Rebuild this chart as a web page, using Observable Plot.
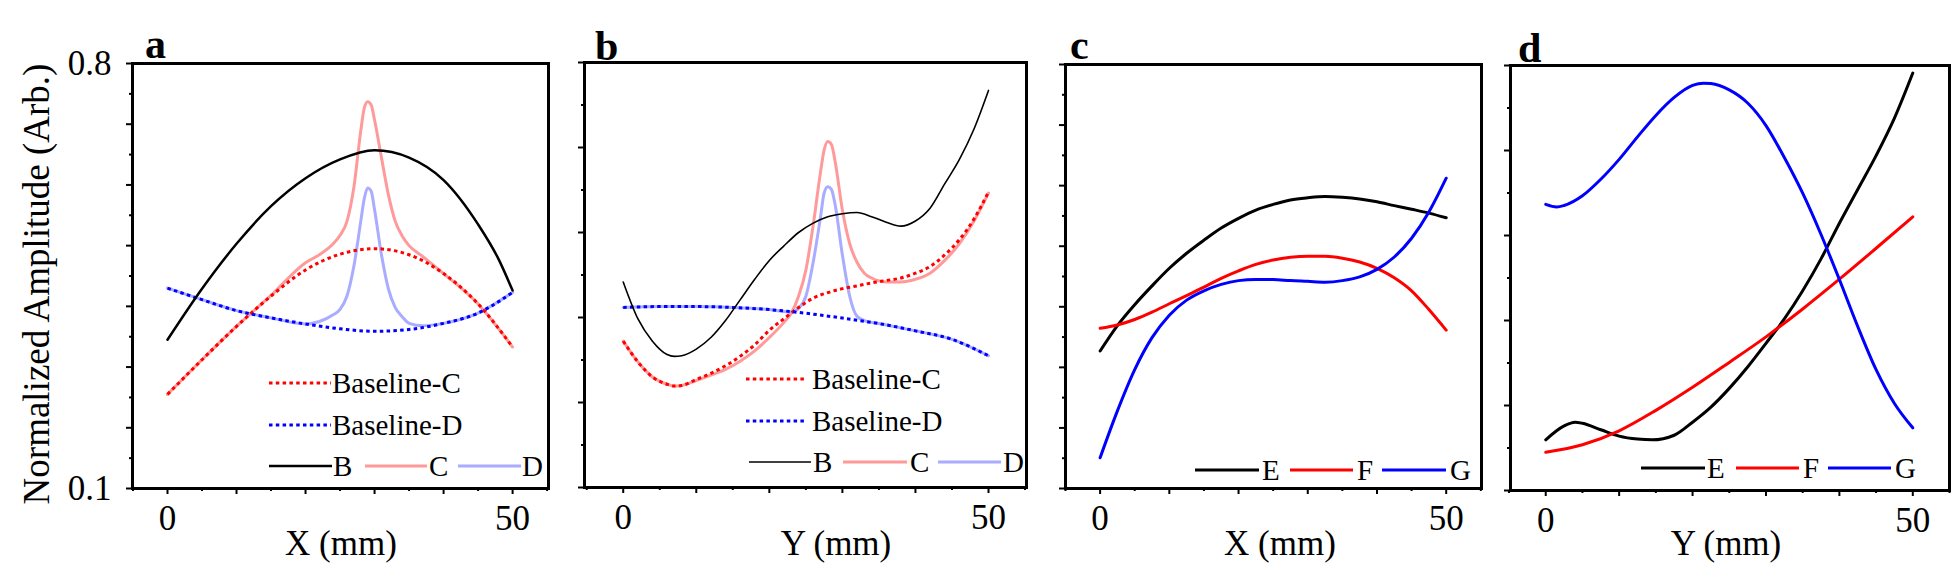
<!DOCTYPE html>
<html><head><meta charset="utf-8">
<script src="https://cdn.jsdelivr.net/npm/d3@7"></script>
<script src="https://cdn.jsdelivr.net/npm/@observablehq/plot@0.6"></script>
<style>
body{margin:0;background:#fff;}
#wrap{position:relative;width:1955px;height:586px;overflow:hidden;background:#fff;}
#wrap svg{position:absolute;top:0;}
</style></head><body><div id="wrap"></div>
<script>
const FONT = '"Liberation Serif","Times New Roman",serif';

// ---------- tick definitions ----------
const X_MAJOR = [0,10,20,30,40,50];
const X_MINOR = [-5,5,15,25,35,45,55];
const X_LABELS = [0,50];
const Y7_MAJOR = [0.1,0.2,0.3,0.4,0.5,0.6,0.7,0.8];
const Y7_MINOR = [0.15,0.25,0.35,0.45,0.55,0.65,0.75];
const Y5_MAJOR = [0.1,0.24,0.38,0.52,0.66,0.8];
const Y5_MINOR = [0.17,0.31,0.45,0.59,0.73];
const Y_LABELS = [0.1,0.8];

// ---------- panel a (X scan) ----------
const aB_x = [0,5,10,15,20,25,30,35,40,45,48,50];
const aB_y = [.345,.429,.503,.565,.611,.642,.657,.645,.608,.535,.477,.426];
const aC_x = [0,5,10,15,20,22,24,25,26,27,28,28.5,29,29.5,30,31,32,33,34,35,37,40,45,50];
const aC_y = [.255,.312,.367,.418,.472,.485,.503,.517,.54,.596,.689,.726,.737,.732,.707,.645,.584,.54,.516,.5,.482,.454,.404,.333];
const aD_x = [0,5,10,15,20,22,24,25,26,27,28,28.5,29,29.5,30,31,32,33,34,35,37,40,45,50];
const aD_y = [.43,.411,.393,.381,.371,.375,.386,.395,.417,.466,.54,.577,.595,.59,.559,.485,.429,.398,.383,.372,.368,.372,.389,.423];
const aBaseC_x = [0,5,10,15,20,25,30,35,40,45,50];
const aBaseC_y = [.255,.312,.367,.417,.46,.486,.495,.485,.454,.404,.333];
const aBaseD_x = [0,5,10,15,20,25,30,35,40,45,50];
const aBaseD_y = [.43,.411,.393,.381,.371,.363,.359,.362,.372,.389,.423];

// ---------- panel b (Y scan) ----------
const bB_x = [0,2,4,6,7,8,10,12,14,16,18,20,22,24,26,28,30,32,34,36,38,40,42,44,46,48,50];
const bB_y = [.4385,.378,.341,.319,.316,.317,.328,.347,.375,.409,.443,.474,.498,.52,.5355,.546,.551,.553,.546,.537,.5305,.539,.56,.60,.64,.69,.754];
const bC_x = [0,2,4,6,7,8,10,12,14,16,18,20,22,23,24,25,26,27,27.5,28,28.5,29,30,31,32,33,34,36,38,40,42,44,46,48,50];
const bC_y = [.341,.307,.282,.27,.267,.268,.276,.285,.2945,.308,.325,.347,.372,.387,.415,.458,.532,.619,.656,.67,.665,.6375,.557,.5015,.471,.453,.445,.4385,.4385,.443,.453,.474,.5015,.5386,.585];
const bD_x = [0,5,10,15,20,23,24,25,26,27,27.5,28,28.5,29,30,31,32,33,35,40,45,50];
const bD_y = [.3965,.398,.398,.3965,.393,.389,.395,.415,.471,.545,.585,.5955,.591,.566,.483,.415,.382,.375,.37,.358,.344,.317];
const bBaseC_x = [0,2,4,6,7,8,10,12,14,16,18,20,22,24,26,28,30,32,34,36,38,40,42,44,46,48,50];
const bBaseC_y = [.341,.307,.282,.27,.267,.268,.278,.288,.3005,.316,.335,.359,.378,.3965,.412,.421,.4275,.432,.437,.441,.445,.453,.464,.483,.508,.542,.587];
const bBaseD_x = [0,5,10,15,20,25,30,35,40,45,50];
const bBaseD_y = [.3965,.398,.398,.3965,.393,.387,.379,.37,.358,.344,.317];

// ---------- panel c (X scan) ----------
const c_x = [0,2.5,5,7.5,10,12.5,15,17.5,20,22.5,25,27.5,30,32.5,35,37.5,40,42.5,45,47.5,50];
const cE_y = [.327,.369,.4035,.4345,.4636,.4884,.51,.53,.546,.5596,.569,.5764,.58,.582,.5807,.578,.5733,.567,.561,.5547,.547];
const cF_y = [.3645,.37,.379,.391,.405,.4184,.4326,.447,.4593,.47,.4772,.4816,.4834,.4834,.4803,.474,.4636,.448,.4264,.3955,.3614];
const cG_y = [.1508,.2282,.2963,.349,.3862,.411,.4264,.437,.4432,.445,.445,.4432,.442,.4407,.4432,.4494,.4618,.4822,.5132,.5565,.6123];

// ---------- panel d (Y scan) ----------
const dE_x = [0,2.5,4,5,7.5,10,12.5,14.5,17.5,20,22.5,25,27.5,30,32.5,35,37.5,40,42.5,45,47.5,50];
const dE_y = [.1834,.2063,.2125,.2107,.2,.1896,.1847,.1834,.191,.2125,.2373,.2682,.3034,.3424,.3826,.429,.4815,.5403,.5959,.6516,.7134,.7876];
const dF_x = [0,5,10,15,20,25,30,35,40,45,50];
const dF_y = [.163,.1754,.1983,.232,.27,.311,.353,.399,.448,.499,.5508];
const dG_x = [0,1.5,2.5,5,7.5,10,12.5,15,17.5,20,21.5,22.5,25,27.5,30,32.5,35,37.5,40,42.5,45,47.5,50];
const dG_y = [.5712,.5669,.5694,.5854,.6126,.6454,.6825,.7178,.7474,.7672,.7709,.7703,.7598,.7382,.7011,.6485,.5897,.5217,.4475,.3702,.2991,.2434,.2032];

// ---------- styles ----------
const ST = {
  B:     {stroke:"#000000", width:2.5},
  Bthin: {stroke:"#000000", width:1.6},
  C:     {stroke:"#ff9a9a", width:3},
  D:     {stroke:"#a9acff", width:3},
  baseC: {stroke:"#ff0000", width:3, dash:"3.5,3.3"},
  baseD: {stroke:"#0000ff", width:3, dash:"3.5,3.3"},
  E:     {stroke:"#000000", width:3},
  F:     {stroke:"#ff0000", width:3},
  G:     {stroke:"#0000ff", width:3}
};

const panels = [
  {letter:"a", frame:[132,548,63,488], xDomain:[-5.07,55.2], yMajor:Y7_MAJOR, yMinor:Y7_MINOR, yLabels:true,
   letterPos:[145,58], title:"X (mm)", titleX:341,
   series:[[aC_x,aC_y,ST.C],[aD_x,aD_y,ST.D],[aBaseC_x,aBaseC_y,ST.baseC],[aBaseD_x,aBaseD_y,ST.baseD],[aB_x,aB_y,ST.B]],
   legend:[
     {st:ST.baseC, x1:269, x2:331, y:383, label:"Baseline-C", tx:332},
     {st:ST.baseD, x1:269, x2:331, y:425, label:"Baseline-D", tx:332},
     {st:ST.B, x1:269, x2:332, y:466, label:"B", tx:333},
     {st:ST.C, x1:365, x2:427, y:466, label:"C", tx:429},
     {st:ST.D, x1:458, x2:521, y:466, label:"D", tx:522}
   ]},
  {letter:"b", frame:[584,1026,62,487], xDomain:[-5.3,55.2], yMajor:Y5_MAJOR, yMinor:Y5_MINOR, yLabels:false,
   letterPos:[595,60], title:"Y (mm)", titleX:836,
   series:[[bC_x,bC_y,ST.C],[bD_x,bD_y,ST.D],[bBaseC_x,bBaseC_y,ST.baseC],[bBaseD_x,bBaseD_y,ST.baseD],[bB_x,bB_y,ST.Bthin]],
   legend:[
     {st:ST.baseC, x1:746, x2:807, y:379, label:"Baseline-C", tx:812},
     {st:ST.baseD, x1:746, x2:807, y:421, label:"Baseline-D", tx:812},
     {st:ST.Bthin, x1:749, x2:811, y:462, label:"B", tx:813},
     {st:ST.C, x1:843, x2:907, y:462, label:"C", tx:910},
     {st:ST.D, x1:938, x2:1001, y:462, label:"D", tx:1003}
   ]},
  {letter:"c", frame:[1065,1481,64,488], xDomain:[-5,55.1], yMajor:Y7_MAJOR, yMinor:Y7_MINOR, yLabels:false,
   letterPos:[1070,59], title:"X (mm)", titleX:1280,
   series:[[c_x,cE_y,ST.E],[c_x,cF_y,ST.F],[c_x,cG_y,ST.G]],
   legend:[
     {st:ST.E, x1:1195, x2:1259, y:470, label:"E", tx:1262},
     {st:ST.F, x1:1290, x2:1353, y:470, label:"F", tx:1357},
     {st:ST.G, x1:1382, x2:1446, y:470, label:"G", tx:1450}
   ]},
  {letter:"d", frame:[1510,1949,65,490], xDomain:[-4.8,55.0], yMajor:Y5_MAJOR, yMinor:Y5_MINOR, yLabels:false,
   letterPos:[1518,62], title:"Y (mm)", titleX:1726,
   series:[[dE_x,dE_y,ST.E],[dF_x,dF_y,ST.F],[dG_x,dG_y,ST.G]],
   legend:[
     {st:ST.E, x1:1641, x2:1705, y:468, label:"E", tx:1707},
     {st:ST.F, x1:1736, x2:1799, y:468, label:"F", tx:1803},
     {st:ST.G, x1:1828, x2:1891, y:468, label:"G", tx:1895}
   ]}
];

const wrap = document.getElementById("wrap");

for (const p of panels) {
  const [L, R, T, Bt] = p.frame;
  const mL = p.yLabels ? L : 20;
  const mR = 6;
  const marks = [];
  for (const [xs, ys, st] of p.series) {
    const data = xs.map((x, i) => ({x, y: ys[i]}));
    marks.push(Plot.line(data, {
      x: "x", y: "y", stroke: st.stroke, strokeWidth: st.width,
      strokeDasharray: st.dash, strokeLinecap: st.dash ? "butt" : "round",
      strokeLinejoin: "round", curve: "monotone-x"
    }));
  }
  marks.push(Plot.frame({stroke: "#000", strokeWidth: 3}));
  marks.push(Plot.axisX({ticks: X_MAJOR, tickSize: 6, strokeWidth: 2, tickFormat: () => "", label: null}));
  marks.push(Plot.axisX({ticks: X_MINOR, tickSize: 3, strokeWidth: 2, tickFormat: () => "", label: null}));
  marks.push(Plot.axisX({ticks: X_LABELS, tickSize: 0, tickPadding: 17, fontSize: 35, tickFormat: d => String(d), label: null}));
  marks.push(Plot.axisY({ticks: p.yMajor, tickSize: 6, strokeWidth: 2, tickFormat: () => "", label: null}));
  marks.push(Plot.axisY({ticks: p.yMinor, tickSize: 3, strokeWidth: 2, tickFormat: () => "", label: null}));
  if (p.yLabels) {
    marks.push(Plot.axisY({ticks: Y_LABELS, tickSize: 0, tickPadding: 21, fontSize: 35, tickFormat: d3.format(".1f"), label: null}));
  }
  const svg = Plot.plot({
    width: (R - L) + mL + mR,
    height: 586,
    marginLeft: mL, marginRight: mR, marginTop: T, marginBottom: 586 - Bt,
    x: {domain: p.xDomain},
    y: {domain: [0.1, 0.8]},
    style: {background: "transparent", overflow: "visible", fontFamily: FONT, color: "#000"},
    marks
  });
  svg.style.left = (L - mL) + "px";
  svg.style.position = "absolute";
  svg.style.top = "0px";
  wrap.appendChild(svg);
}

// ---------- overlay: panel letters, titles, legends ----------
const ov = d3.select(wrap).append("svg")
  .attr("width", 1955).attr("height", 586)
  .style("position", "absolute").style("left", "0px").style("top", "0px")
  .attr("font-family", FONT);

ov.append("text")
  .attr("transform", "translate(49,284) rotate(-90)")
  .attr("text-anchor", "middle").attr("font-size", 37)
  .text("Normalized Amplitude (Arb.)");

for (const p of panels) {
  ov.append("text").attr("x", p.letterPos[0]).attr("y", p.letterPos[1])
    .attr("font-size", 42).attr("font-weight", "bold").text(p.letter);
  ov.append("text").attr("x", p.titleX).attr("y", 555)
    .attr("text-anchor", "middle").attr("font-size", 35).text(p.title);
  for (const e of p.legend) {
    ov.append("line").attr("x1", e.x1).attr("x2", e.x2).attr("y1", e.y).attr("y2", e.y)
      .attr("stroke", e.st.stroke).attr("stroke-width", e.st.width)
      .attr("stroke-dasharray", e.st.dash || null);
    ov.append("text").attr("x", e.tx).attr("y", e.y + 10)
      .attr("font-size", 29).text(e.label);
  }
}
</script>
</body></html>
